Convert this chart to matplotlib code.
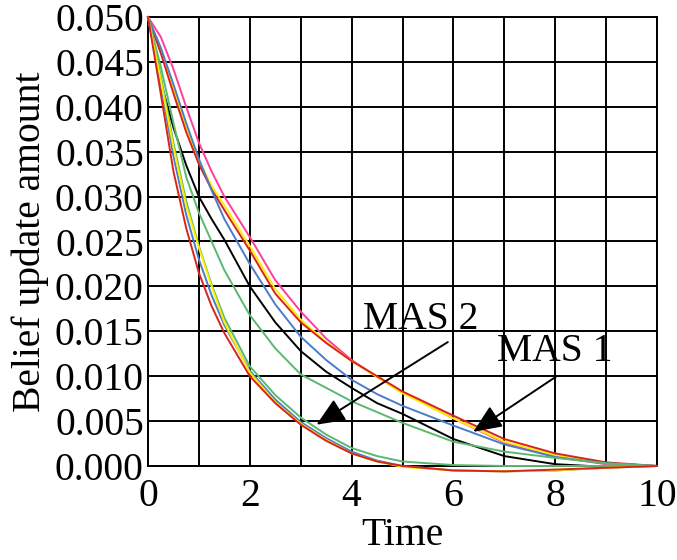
import matplotlib
matplotlib.use("Agg")
import matplotlib.pyplot as plt
import numpy as np

plt.rcParams['font.family'] = ['Liberation Serif', 'DejaVu Serif']

t = [0, 0.25, 0.5, 0.75, 1, 1.25, 1.5, 2, 2.5, 3, 3.5, 4, 4.5, 5, 6, 7, 8, 9, 10]

# MAS 2 (fast decaying)
fast_red    = [0.050, 0.0415, 0.0328, 0.0265, 0.0215, 0.0178, 0.0148, 0.0100, 0.0070, 0.0046, 0.0028, 0.0014, 0.0005, 0.0000, -0.0005, -0.0006, -0.0004, -0.0002, 0.0]
fast_blue   = [0.050, 0.0425, 0.0345, 0.0280, 0.0230, 0.0190, 0.0157, 0.0106, 0.0074, 0.0049, 0.0031, 0.0016, 0.0006, 0.0000, -0.0005, -0.0006, -0.0005, -0.0002, 0.0]
fast_yellow = [0.050, 0.0430, 0.0355, 0.0290, 0.0243, 0.0200, 0.0160, 0.0104, 0.0071, 0.0047, 0.0029, 0.0014, 0.0005, -0.0001, -0.0005, -0.0006, -0.0005, -0.0002, 0.0]
fast_green  = [0.050, 0.0435, 0.0360, 0.0295, 0.0245, 0.0202, 0.0165, 0.0111, 0.0079, 0.0054, 0.0035, 0.0020, 0.0011, 0.0005, 0.0001, 0.0000, 0.0000, 0.0000, 0.0]

# MAS 1 (slow decaying)
slow_green  = [0.050, 0.0445, 0.0382, 0.0322, 0.0282, 0.0250, 0.0218, 0.0168, 0.0131, 0.0102, 0.0087, 0.0072, 0.0060, 0.0048, 0.0027, 0.0016, 0.0009, 0.0003, 0.0]
slow_black  = [0.050, 0.0428, 0.0377, 0.0335, 0.0300, 0.0275, 0.0252, 0.0200, 0.0160, 0.0128, 0.0105, 0.0087, 0.0070, 0.0058, 0.0030, 0.0011, 0.0002, -0.0001, 0.0]
slow_blue   = [0.050, 0.0466, 0.0425, 0.0382, 0.0342, 0.0307, 0.0275, 0.0225, 0.0180, 0.0144, 0.0118, 0.0096, 0.0080, 0.0067, 0.0045, 0.0024, 0.0010, 0.0003, 0.0]
slow_red    = [0.050, 0.0460, 0.0415, 0.0372, 0.0336, 0.0308, 0.0285, 0.0240, 0.0192, 0.0160, 0.0137, 0.0117, 0.0100, 0.0083, 0.0056, 0.0030, 0.0014, 0.0004, 0.0]
slow_yellow = [0.050, 0.0463, 0.0420, 0.0377, 0.0340, 0.0312, 0.0290, 0.0245, 0.0197, 0.0163, 0.0138, 0.0117, 0.0099, 0.0081, 0.0053, 0.0027, 0.0012, 0.0003, 0.0]
slow_pink   = [0.050, 0.0478, 0.0442, 0.0400, 0.0360, 0.0328, 0.0300, 0.0255, 0.0207, 0.0172, 0.0142, 0.0118, 0.0099, 0.0082, 0.0053, 0.0026, 0.0010, 0.0002, 0.0]

RED, BLUE, YELLOW, GREEN, PINK, BLACK = '#d9241c', '#4a7cc9', '#ffee00', '#5bb870', '#ff3d9a', '#000000'

series = [
    (slow_pink, PINK), (slow_yellow, YELLOW), (slow_red, RED), (slow_blue, BLUE),
    (slow_black, BLACK), (slow_green, GREEN),
    (fast_green, GREEN), (fast_blue, BLUE), (fast_yellow, YELLOW), (fast_red, RED),
]

FS = 28.5

fig = plt.figure(figsize=(6.77, 5.60), dpi=100)
ax = fig.add_axes([0.2186, 0.1679, 0.9705 - 0.2186, 0.9696 - 0.1679])

for vals, c in series:
    ax.plot(t, vals, color=c, lw=1.4, clip_on=False, zorder=3)

ax.set_xlim(0, 10)
ax.set_ylim(0, 0.050)
ax.set_xticks(np.arange(0, 11, 2))
ax.set_xticks(np.arange(0, 11, 1), minor=True)
ax.set_yticks(np.arange(0, 0.0501, 0.005))
ax.set_yticklabels([f"{v:.3f}" for v in np.arange(0, 0.0501, 0.005)])
ax.grid(True, which='both', color='black', lw=1.4)
ax.set_axisbelow(True)
ax.tick_params(which='both', length=0, labelsize=FS)
ax.tick_params(axis='x', pad=9)
ax.tick_params(axis='y', pad=3)
for s in ax.spines.values():
    s.set_linewidth(1.4)

ax.set_xlabel('Time', fontsize=FS, labelpad=1)
ax.set_ylabel('Belief update amount', fontsize=FS, labelpad=4)

ax.text(5.36, 0.0163, 'MAS 2', fontsize=FS, ha='center', va='center', zorder=5)
ax.text(8.0, 0.0128, 'MAS 1', fontsize=FS, ha='center', va='center', zorder=5)
ax.annotate('', xy=(3.31, 0.0046), xytext=(5.89, 0.0138), zorder=5,
            arrowprops=dict(arrowstyle='-|>,head_length=0.7,head_width=0.3', color='black', lw=1.4,
                            mutation_scale=25, shrinkA=0, shrinkB=0))
ax.annotate('', xy=(6.39, 0.0038), xytext=(8.03, 0.0100), zorder=5,
            arrowprops=dict(arrowstyle='-|>,head_length=0.7,head_width=0.3', color='black', lw=1.4,
                            mutation_scale=25, shrinkA=0, shrinkB=0))

fig.savefig('out.png', dpi=100)
